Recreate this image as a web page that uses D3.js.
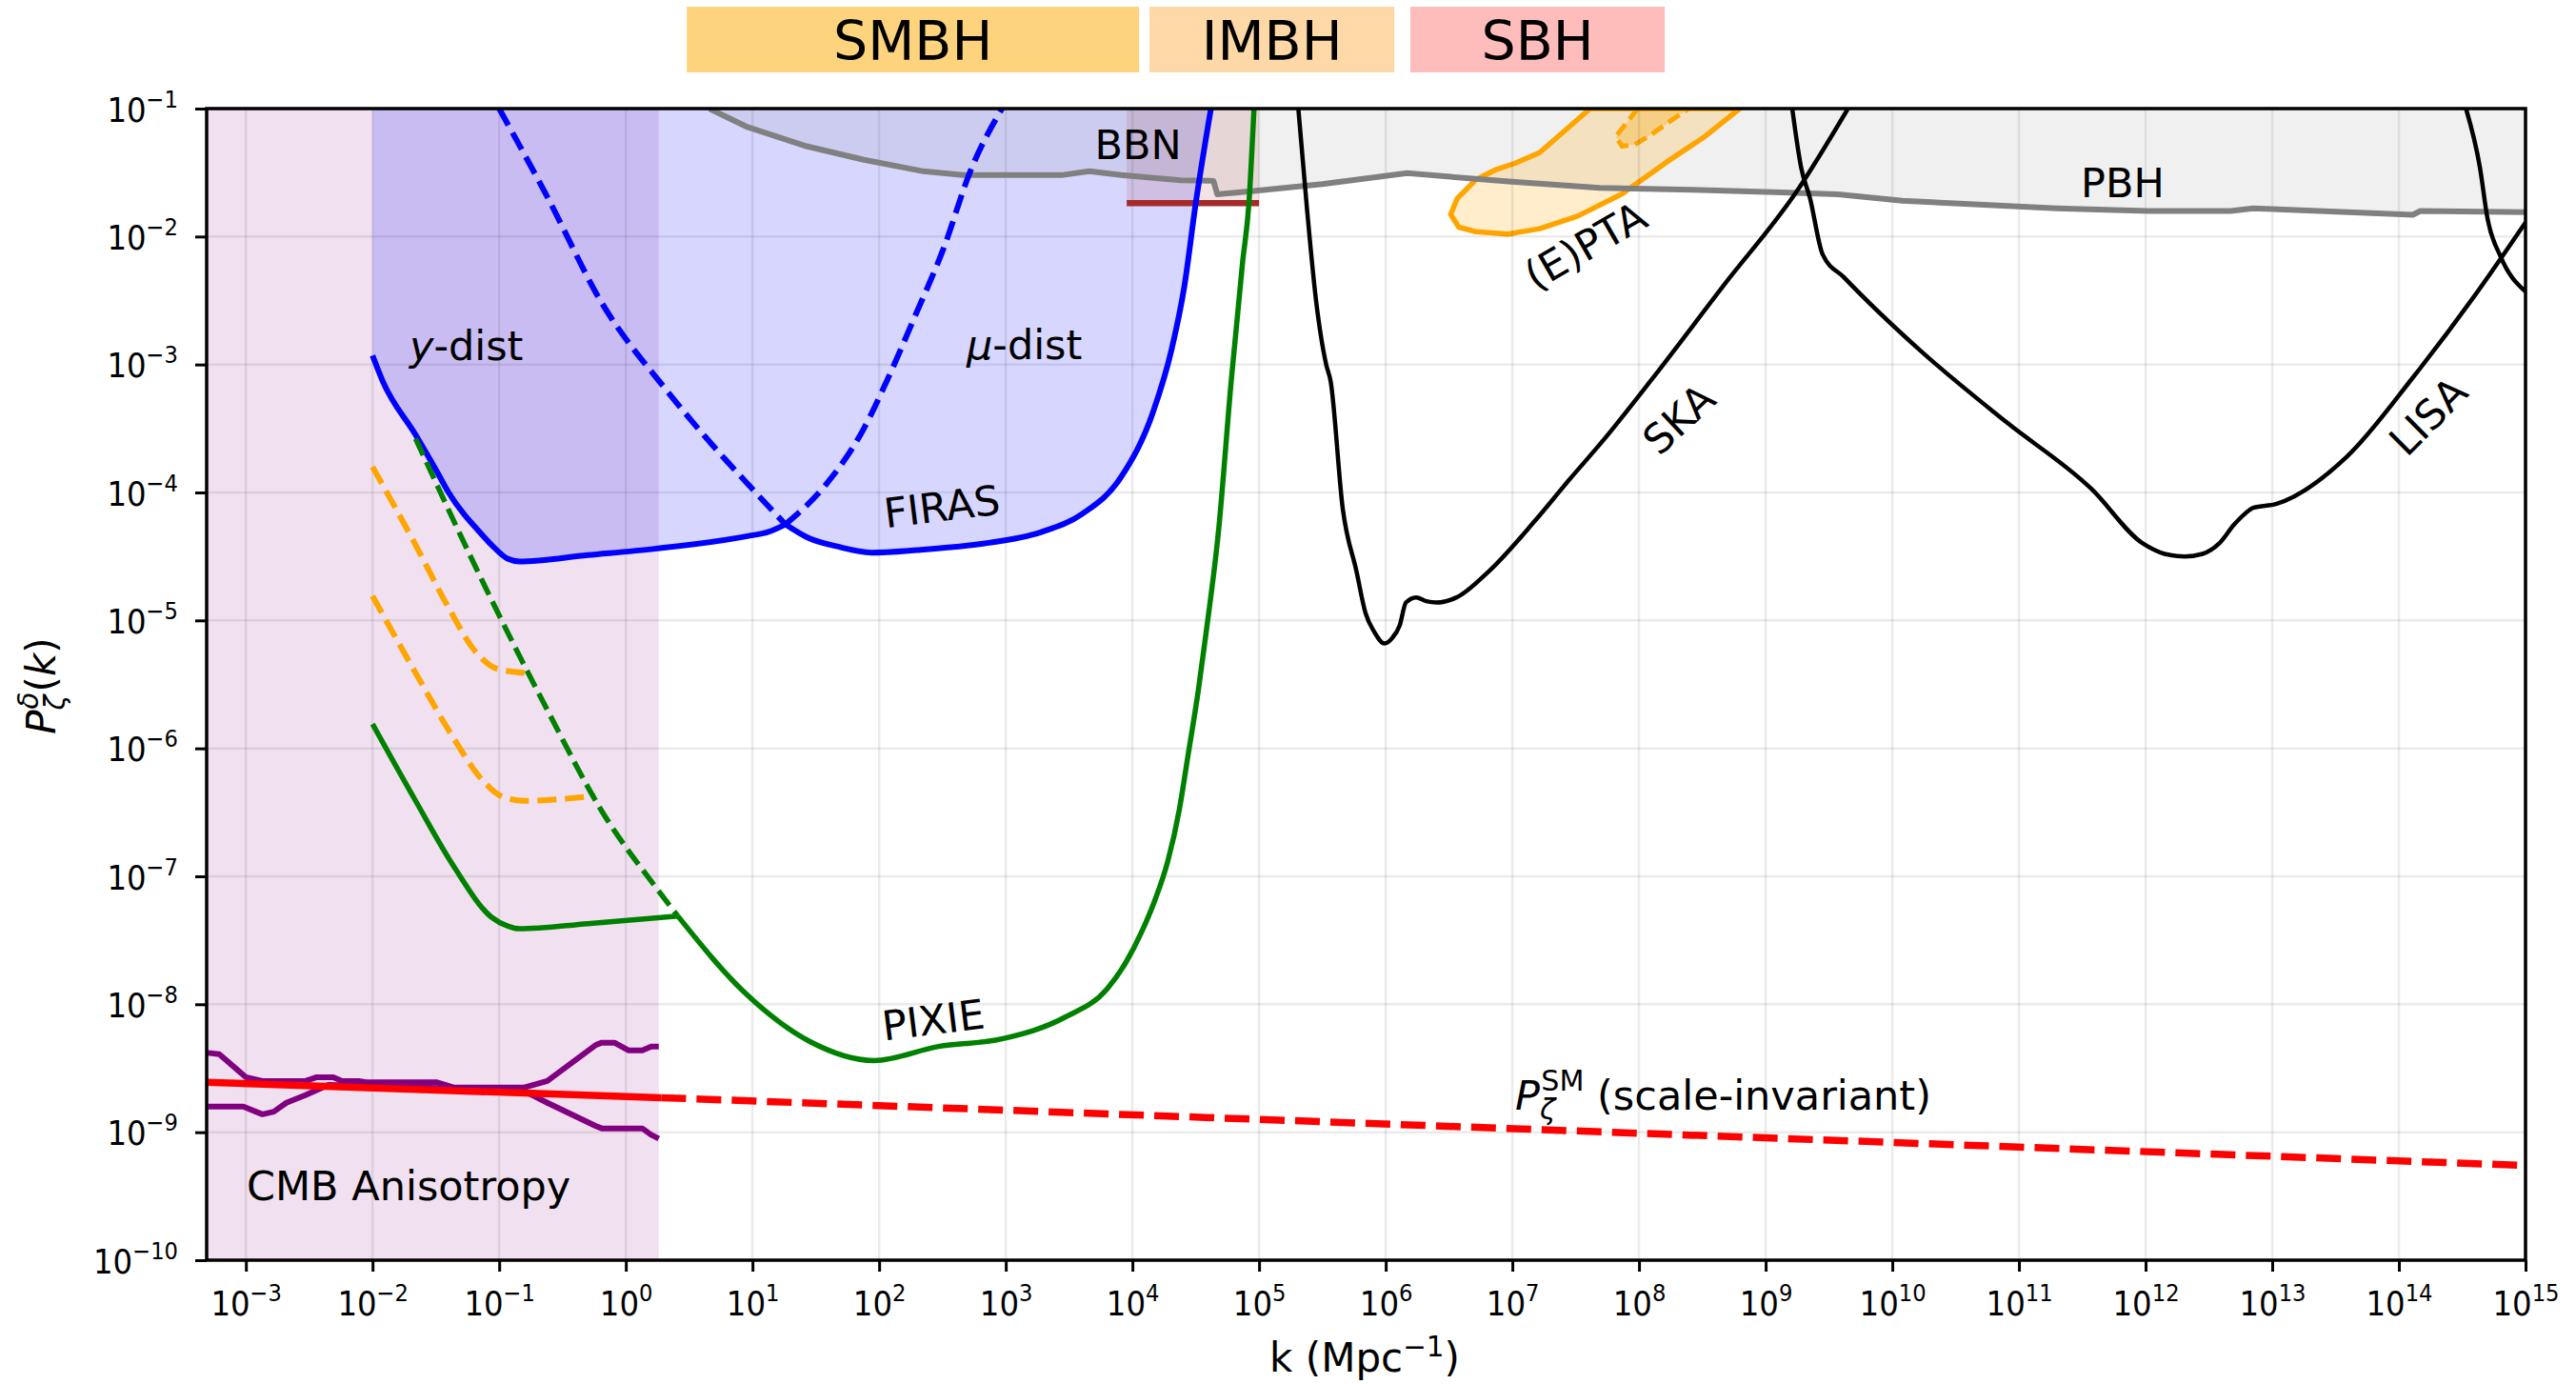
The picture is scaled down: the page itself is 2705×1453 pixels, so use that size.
<!DOCTYPE html>
<html><head><meta charset="utf-8">
<script src="https://cdn.jsdelivr.net/npm/d3@7"></script>
<style>body{margin:0;background:#fff}svg{display:block}</style>
</head><body>
<script>
// ---------------- DATA (all pairs are [log10 k, log10 P]) ----------------
const kTickExps = [-3,-2,-1,0,1,2,3,4,5,6,7,8,9,10,11,12,13,14,15];
const pTickExps = [-10,-9,-8,-7,-6,-5,-4,-3,-2,-1];

const bhNames  = ["SMBH","IMBH","SBH"];
const bhRanges = [[0.481,4.053],[4.135,6.068],[6.195,8.203]]; // log10 k extent of header boxes
const bhColors = ["#FDD37E","#FED8A6","#FEBCBB"];

const cmbBandLogK = [-3.4, 0.26];

const firasYSolid = [[-2.0,-2.93],[-1.92,-3.13],[-1.66,-3.55],[-1.49,-3.84],[-1.40,-4.0],[-1.27,-4.18],[-1.19,-4.27],[-1.06,-4.41],[-0.93,-4.52],[-0.84,-4.54],[-0.3,-4.49],[0.23,-4.44],[0.97,-4.34],[1.12,-4.31],[1.26,-4.25]];
const firasMuSolid = [[1.26,-4.25],[1.45,-4.36],[1.66,-4.42],[1.94,-4.47],[2.3,-4.45],[2.82,-4.40],[3.28,-4.31],[3.60,-4.17],[3.91,-3.88],[4.16,-3.38],[4.31,-2.88],[4.41,-2.39],[4.50,-1.74],[4.62,-1.0]];
const firasMuDashed = [[-1.0,-1.0],[-0.62,-1.69],[-0.195,-2.51],[0.32,-3.20],[0.64,-3.58],[0.95,-3.92],[1.26,-4.25]];
const firasYDashed = [[1.26,-4.25],[1.57,-3.95],[1.88,-3.50],[2.06,-3.13],[2.28,-2.63],[2.51,-2.09],[2.72,-1.49],[2.97,-1.0]];

const pixieYSolid = [[-2.0,-5.81],[-1.66,-6.41],[-1.36,-6.92],[-1.06,-7.32],[-0.93,-7.39],[-0.84,-7.41],[-0.3,-7.37],[0.41,-7.31]];
const pixieYDashed = [[-1.66,-3.58],[-1.06,-4.84],[-0.62,-5.70],[-0.19,-6.49],[0.24,-7.09],[0.41,-7.31]];
const pixieMuSolid = [[0.41,-7.31],[0.95,-7.92],[1.45,-8.29],[1.96,-8.44],[2.47,-8.33],[2.97,-8.27],[3.47,-8.10],[3.80,-7.88],[3.95,-7.67],[4.07,-7.44],[4.18,-7.18],[4.28,-6.88],[4.37,-6.48],[4.44,-6.05],[4.52,-5.55],[4.58,-5.11],[4.68,-4.30],[4.78,-3.13],[4.87,-2.2],[4.92,-1.74],[4.96,-1.0]];

const orangeUpper = [[-2.0,-3.80],[-1.66,-4.41],[-1.40,-4.90],[-1.19,-5.24],[-1.01,-5.38],[-0.80,-5.41]];
const orangeLower = [[-2.0,-4.81],[-1.66,-5.41],[-1.36,-5.92],[-1.14,-6.24],[-0.97,-6.38],[-0.80,-6.41],[-0.24,-6.37]];

const bbnLogK = [3.955, 5.0];
const bbnLogP = -1.739;

const pbhLine = [[0.66,-1.0],[0.95,-1.14],[1.41,-1.29],[1.88,-1.40],[2.35,-1.49],[2.66,-1.52],[3.44,-1.52],[3.66,-1.49],[3.91,-1.52],[4.38,-1.56],[4.64,-1.565],[4.67,-1.67],[4.94,-1.645],[5.5,-1.59],[6.17,-1.505],[6.97,-1.57],[7.69,-1.62],[8.42,-1.635],[9.13,-1.655],[9.57,-1.67],[10.08,-1.72],[11.30,-1.78],[12.02,-1.80],[12.67,-1.80],[12.85,-1.78],[13.0,-1.785],[14.11,-1.83],[14.17,-1.80],[15.0,-1.81]];

const ptaOuter = [[7.614,-1.0],[7.215,-1.344],[7.014,-1.430],[6.863,-1.480],[6.714,-1.554],[6.564,-1.703],[6.513,-1.827],[6.577,-1.927],[6.714,-1.963],[6.965,-1.981],[7.215,-1.939],[7.516,-1.840],[7.867,-1.666],[8.218,-1.418],[8.519,-1.219],[8.795,-1.0]];
const ptaInner = [[7.99,-1.0],[7.817,-1.219],[7.867,-1.294],[7.967,-1.281],[8.092,-1.207],[8.268,-1.083],[8.393,-1.0]];

const ska = [[5.31,-1.0],[5.38,-1.8],[5.45,-2.5],[5.53,-3.0],[5.565,-3.13],[5.66,-4.12],[5.77,-4.62],[5.84,-4.94],[5.91,-5.09],[5.99,-5.18],[6.05,-5.14],[6.11,-5.04],[6.16,-4.86],[6.24,-4.82],[6.32,-4.85],[6.40,-4.86],[6.56,-4.82],[6.81,-4.62],[7.18,-4.22],[7.45,-3.90],[7.72,-3.59],[8.09,-3.13],[8.67,-2.38],[9.25,-1.64],[9.65,-1.0]];
const lisa = [[9.21,-1.0],[9.28,-1.46],[9.35,-1.70],[9.45,-2.14],[9.62,-2.32],[10.22,-2.89],[10.90,-3.45],[11.57,-3.97],[11.98,-4.40],[12.15,-4.48],[12.31,-4.50],[12.45,-4.48],[12.58,-4.40],[12.70,-4.25],[12.78,-4.17],[12.85,-4.12],[13.03,-4.09],[13.59,-3.72],[14.12,-3.09],[14.60,-2.46],[15.0,-1.89]];
const lisaHigh = [[14.53,-1.0],[14.64,-1.46],[14.70,-1.86],[14.80,-2.15],[15.0,-2.43]];

const cmbUpper = [[-3.30,-8.38],[-3.21,-8.39],[-3.0,-8.57],[-2.87,-8.60],[-2.53,-8.60],[-2.44,-8.57],[-2.31,-8.57],[-2.24,-8.60],[-2.11,-8.60],[-2.05,-8.61],[-1.49,-8.61],[-1.36,-8.65],[-0.80,-8.65],[-0.62,-8.60],[-0.24,-8.32],[-0.19,-8.30],[-0.09,-8.30],[0.02,-8.36],[0.13,-8.36],[0.20,-8.33],[0.26,-8.33]];
const cmbLower = [[-3.30,-8.80],[-3.02,-8.80],[-2.87,-8.86],[-2.78,-8.84],[-2.68,-8.77],[-2.53,-8.71],[-2.35,-8.63],[-2.0,-8.64],[-1.3,-8.66],[-0.80,-8.68],[-0.62,-8.77],[-0.24,-8.95],[-0.19,-8.97],[0.13,-8.97],[0.20,-9.02],[0.26,-9.05]];

const smSolid  = [[-3.31,-8.61],[0.28,-8.73]];
const smDashed = [[0.28,-8.73],[15.0,-9.26]];

// ---------------- LAYOUT ----------------
const W = 2705, H = 1453;
const M = {left:217, right:2652, top:114, bottom:1323};
const FONT = "'DejaVu Sans', sans-serif";
const TICKFONT = "'DejaVu Sans Condensed','DejaVu Sans',sans-serif";

const x = d3.scaleLog().domain([4.9e-4, 1e15]).range([M.left, M.right]);
const y = d3.scaleLog().domain([1e-10, 1e-1]).range([M.bottom, M.top]);
const X = v => x(Math.pow(10, v));
const Y = v => y(Math.pow(10, v));

const lin = d3.line().x(d => X(d[0])).y(d => Y(d[1]));
const smooth = d3.line().x(d => X(d[0])).y(d => Y(d[1])).curve(d3.curveMonotoneX);

const svg = d3.select("body").append("svg").attr("width", W).attr("height", H)
  .style("font-family", FONT);
svg.append("rect").attr("width", W).attr("height", H).attr("fill", "#fff");

svg.append("defs").append("clipPath").attr("id", "clip").append("rect")
  .attr("x", M.left).attr("y", M.top).attr("width", M.right - M.left).attr("height", M.bottom - M.top);

// header boxes
const hdr = svg.append("g");
bhNames.forEach((n, i) => {
  const x0 = X(bhRanges[i][0]), x1 = X(bhRanges[i][1]);
  hdr.append("rect").attr("x", x0).attr("y", 7).attr("width", x1 - x0).attr("height", 69).attr("fill", bhColors[i]);
  hdr.append("text").attr("x", (x0 + x1) / 2).attr("y", 63).attr("text-anchor", "middle")
    .attr("font-size", 57).attr("fill", "#000").text(n);
});

const plot = svg.append("g").attr("clip-path", "url(#clip)");

// CMB band
plot.append("rect").attr("x", X(cmbBandLogK[0])).attr("y", M.top)
  .attr("width", X(cmbBandLogK[1]) - X(cmbBandLogK[0])).attr("height", M.bottom - M.top)
  .attr("fill", "rgba(128,0,128,0.12)");

// FIRAS fill
{
  const p1 = smooth(firasYSolid);
  const p2 = smooth(firasMuSolid).replace(/^M/, "L");
  plot.append("path").attr("d", p1 + p2 + `L${X(4.62)},${Y(-1)}L${X(-2)},${Y(-1)}Z`)
    .attr("fill", "rgba(0,0,255,0.16)");
}
// PBH fill
plot.append("path").attr("d", lin(pbhLine) + `L${X(15)},${Y(-1)}Z`).attr("fill", "rgba(128,128,128,0.12)");
// BBN box
plot.append("rect").attr("x", X(bbnLogK[0])).attr("y", Y(-1))
  .attr("width", X(bbnLogK[1]) - X(bbnLogK[0])).attr("height", Y(bbnLogP) - Y(-1))
  .attr("fill", "rgba(165,42,42,0.13)");
// PTA blobs
plot.append("path").attr("d", lin(ptaOuter) + "Z").attr("fill", "rgba(255,165,0,0.2)")
  .attr("stroke", "#FFA500").attr("stroke-width", 5.5).attr("stroke-linejoin", "round");
plot.append("path").attr("d", lin(ptaInner) + "Z").attr("fill", "rgba(255,165,0,0.3)")
  .attr("stroke", "#FFA500").attr("stroke-width", 5).attr("stroke-dasharray", "14,7");

// grid
const grid = svg.append("g");
kTickExps.forEach(e => grid.append("line").attr("x1", X(e)).attr("x2", X(e)).attr("y1", M.top).attr("y2", M.bottom)
  .attr("stroke", "rgba(0,0,0,0.08)").attr("stroke-width", 2.5));
pTickExps.forEach(e => grid.append("line").attr("y1", Y(e)).attr("y2", Y(e)).attr("x1", M.left).attr("x2", M.right)
  .attr("stroke", "rgba(0,0,0,0.08)").attr("stroke-width", 2.5));

const lines = svg.append("g").attr("clip-path", "url(#clip)").attr("fill", "none")
  .attr("stroke-linejoin", "round");
function draw(arr, color, w, dash, gen) {
  lines.append("path").attr("d", (gen || smooth)(arr)).attr("stroke", color).attr("stroke-width", w)
    .attr("stroke-dasharray", dash || null);
}
draw(pbhLine, "#808080", 6, null, lin);
// BBN line
lines.append("line").attr("x1", X(bbnLogK[0])).attr("x2", X(bbnLogK[1])).attr("y1", Y(bbnLogP)).attr("y2", Y(bbnLogP))
  .attr("stroke", "#A52A2A").attr("stroke-width", 6.5);

draw(firasMuDashed, "#0000FF", 6, "20,9");
draw(firasYDashed, "#0000FF", 6, "20,9");
draw(firasYSolid, "#0000FF", 6);
draw(firasMuSolid, "#0000FF", 6);

draw(orangeUpper, "#FFA500", 6, "20,9");
draw(orangeLower, "#FFA500", 6, "20,9");

draw(pixieYDashed, "#008000", 5.5, "19,8");
draw(pixieYSolid, "#008000", 5.5);
draw(pixieMuSolid, "#008000", 5.5);

draw(ska, "#000", 4.5);
draw(lisa, "#000", 4.5);
draw(lisaHigh, "#000", 4.5);

draw(cmbUpper, "#800080", 6, null, lin);
draw(cmbLower, "#800080", 6, null, lin);

draw(smSolid, "#FF0000", 7.5, null, lin);
draw(smDashed, "#FF0000", 7.5, "26,11", lin);

// ---------------- AXES ----------------
function sup(t, e) {
  t.text(null);
  t.append("tspan").text("10");
  t.append("tspan").attr("font-size", "0.7em").attr("dy", -15).text(String(e).replace("-", "\u2212"));
}
const gx = svg.append("g").attr("transform", `translate(0,${M.bottom})`)
  .call(d3.axisBottom(x).tickValues(kTickExps.map(e => Math.pow(10, e))).tickSize(12).tickFormat(""));
gx.select(".domain").remove();
gx.selectAll(".tick line").attr("stroke", "#000").attr("stroke-width", 3);
gx.selectAll(".tick text").each(function(d, i) {
  const t = d3.select(this).attr("y", 58).attr("dy", null).attr("font-size", 36)
    .attr("font-family", TICKFONT).attr("fill", "#000").attr("text-anchor", "middle");
  sup(t, kTickExps[i]);
});

const gy = svg.append("g").attr("transform", `translate(${M.left},0)`)
  .call(d3.axisLeft(y).tickValues(pTickExps.map(e => Math.pow(10, e))).tickSize(12).tickFormat(""));
gy.select(".domain").remove();
gy.selectAll(".tick line").attr("stroke", "#000").attr("stroke-width", 3);
gy.selectAll(".tick text").each(function(d, i) {
  const t = d3.select(this).attr("x", -30).attr("dy", 13).attr("font-size", 36)
    .attr("font-family", TICKFONT).attr("fill", "#000").attr("text-anchor", "end");
  sup(t, pTickExps[i]);
});

// frame
svg.append("rect").attr("x", M.left).attr("y", M.top).attr("width", M.right - M.left).attr("height", M.bottom - M.top)
  .attr("fill", "none").attr("stroke", "#000").attr("stroke-width", 3.5);

// axis labels
{
  const t = svg.append("text").attr("x", 1433).attr("y", 1440).attr("text-anchor", "middle").attr("font-size", 42);
  t.append("tspan").text("k (Mpc");
  t.append("tspan").attr("font-size", "0.7em").attr("dy", -16).text("\u22121");
  t.append("tspan").attr("dy", 16).text(")");
}
{
  const t = svg.append("text").attr("transform", "translate(58,720) rotate(-90)").attr("text-anchor", "middle").attr("font-size", 42);
  t.append("tspan").attr("font-style", "italic").text("P");
  t.append("tspan").attr("font-style", "italic").attr("font-size", "0.7em").attr("dy", 10).text("\u03B6");
  t.append("tspan").attr("font-style", "italic").attr("font-size", "0.7em").attr("dx", -15).attr("dy", -28).text("\u03B4");
  t.append("tspan").attr("dy", 18).text("(");
  t.append("tspan").attr("font-style", "italic").text("k");
  t.append("tspan").text(")");
}

// annotations
const ann = svg.append("g").attr("font-size", 43).attr("fill", "#000");
{
  const t = ann.append("text").attr("x", 430).attr("y", 378);
  t.append("tspan").attr("font-style", "italic").text("y");
  t.append("tspan").text("-dist");
}
{
  const t = ann.append("text").attr("x", 1015).attr("y", 377);
  t.append("tspan").attr("font-style", "italic").text("\u03BC");
  t.append("tspan").text("-dist");
}
ann.append("text").attr("transform", "translate(989,532) rotate(-7)").attr("text-anchor", "middle").attr("dominant-baseline", "central").text("FIRAS");
ann.append("text").attr("transform", "translate(980,1071) rotate(-7)").attr("text-anchor", "middle").attr("dominant-baseline", "central").text("PIXIE");
ann.append("text").attr("x", 1195).attr("y", 167).attr("text-anchor", "middle").text("BBN");
ann.append("text").attr("x", 2229).attr("y", 207).attr("text-anchor", "middle").text("PBH");
ann.append("text").attr("transform", "translate(1665,258) rotate(-30)").attr("text-anchor", "middle").attr("dominant-baseline", "central").text("(E)PTA");
ann.append("text").attr("transform", "translate(1763,440) rotate(-43)").attr("text-anchor", "middle").attr("dominant-baseline", "central").text("SKA");
ann.append("text").attr("transform", "translate(2550,437) rotate(-45)").attr("text-anchor", "middle").attr("dominant-baseline", "central").text("LISA");
ann.append("text").attr("x", 259).attr("y", 1260).text("CMB Anisotropy");
{
  const t = ann.append("text").attr("x", 1591).attr("y", 1165);
  t.append("tspan").attr("font-style", "italic").text("P");
  t.append("tspan").attr("font-style", "italic").attr("font-size", "0.7em").attr("dy", 10).text("\u03B6");
  t.append("tspan").attr("font-size", "0.7em").attr("dx", -15).attr("dy", -30).text("SM");
  t.append("tspan").attr("dy", 20).text(" (scale-invariant)");
}
</script>
</body></html>
